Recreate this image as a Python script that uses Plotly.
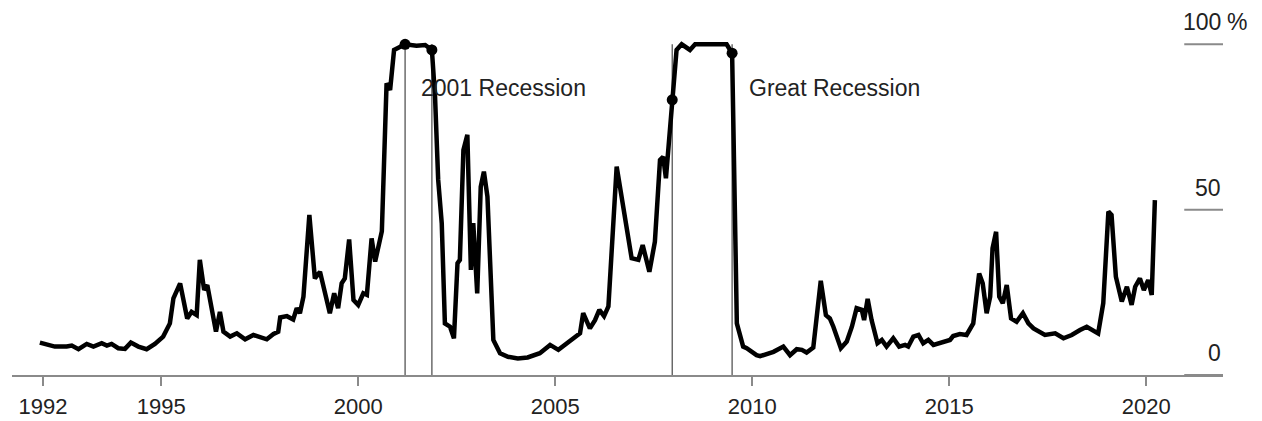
import plotly.graph_objects as go

# Recession probability (%)
years = [
    1991.92, 1992.09, 1992.30, 1992.60, 1992.73, 1992.90, 1993.11, 1993.28, 1993.49, 1993.62,
    1993.74, 1993.91, 1994.08, 1994.23, 1994.42, 1994.63, 1994.84, 1995.05, 1995.22, 1995.31,
    1995.48, 1995.66, 1995.77, 1995.90, 1995.98, 1996.09, 1996.17, 1996.39, 1996.49, 1996.58,
    1996.75, 1996.92, 1997.13, 1997.34, 1997.51, 1997.68, 1997.85, 1997.97, 1998.02, 1998.19,
    1998.35, 1998.44, 1998.52, 1998.61, 1998.76, 1998.90, 1999.03, 1999.28, 1999.39, 1999.49,
    1999.58, 1999.66, 1999.77, 1999.88, 2000.00, 2000.13, 2000.22, 2000.34, 2000.43, 2000.60,
    2000.72, 2000.81, 2000.91, 2001.06, 2001.19, 2001.48, 2001.70, 2001.87, 2001.95, 2002.03,
    2002.12, 2002.20, 2002.33, 2002.43, 2002.52, 2002.58, 2002.67, 2002.77, 2002.86, 2002.92,
    2003.02, 2003.11, 2003.19, 2003.28, 2003.35, 2003.43, 2003.60, 2003.80, 2004.05, 2004.30,
    2004.61, 2004.87, 2005.08, 2005.29, 2005.46, 2005.63, 2005.71, 2005.88, 2006.01, 2006.12,
    2006.24, 2006.35, 2006.56, 2006.94, 2007.11, 2007.22, 2007.39, 2007.53, 2007.66, 2007.74,
    2007.81, 2007.97, 2008.08, 2008.21, 2008.42, 2008.55, 2009.35, 2009.49, 2009.61, 2009.77,
    2009.86, 2010.11, 2010.20, 2010.54, 2010.79, 2010.96, 2011.13, 2011.26, 2011.38, 2011.55,
    2011.74, 2011.87, 2011.97, 2012.06, 2012.25, 2012.40, 2012.53, 2012.65, 2012.78, 2012.84,
    2012.93, 2013.03, 2013.18, 2013.29, 2013.41, 2013.58, 2013.73, 2013.88, 2013.96, 2014.09,
    2014.22, 2014.34, 2014.47, 2014.60, 2014.77, 2015.02, 2015.10, 2015.27, 2015.44, 2015.61,
    2015.76, 2015.85, 2015.95, 2016.04, 2016.10, 2016.19, 2016.27, 2016.36, 2016.46, 2016.57,
    2016.71, 2016.87, 2017.01, 2017.14, 2017.43, 2017.69, 2017.90, 2018.11, 2018.32, 2018.49,
    2018.78, 2018.91, 2019.04, 2019.12, 2019.23, 2019.38, 2019.51, 2019.63, 2019.72, 2019.84,
    2019.94, 2020.05, 2020.14, 2020.22,
]
probability = [
    9.8, 9.4, 8.6, 8.6, 8.9, 7.8, 9.4, 8.6, 9.6, 8.9,
    9.4, 8.1, 7.9, 9.8, 8.6, 7.8, 9.4, 11.6, 15.6, 23.2,
    27.7, 17.1, 19.1, 18.1, 34.8, 25.7, 27.2, 13.1, 19.1, 13.1,
    11.6, 12.6, 10.8, 12.1, 11.6, 10.8, 12.4, 13.1, 17.4, 17.8,
    16.8, 20.2, 18.7, 23.7, 48.4, 29.2, 31.2, 18.7, 24.7, 20.2,
    27.7, 29.2, 41.0, 22.7, 21.2, 24.7, 24.2, 41.3, 34.3, 43.5,
    88.2, 86.2, 98.3, 99.3, 100.0, 99.6, 99.8, 98.3, 84.2, 59.0,
    45.9, 15.6, 14.6, 11.1, 33.8, 34.8, 68.0, 72.6, 31.8, 45.9,
    24.7, 56.9, 61.5, 53.9, 33.8, 10.6, 6.6, 5.5, 5.0, 5.3,
    6.6, 9.1, 7.6, 9.6, 11.1, 12.6, 18.7, 14.1, 16.6, 19.7,
    17.8, 20.7, 63.0, 35.3, 34.8, 39.3, 31.2, 40.3, 65.0, 66.0,
    59.5, 83.2, 98.3, 100.0, 98.3, 100.0, 100.0, 97.3, 15.6, 8.6,
    8.1, 6.0, 5.7, 7.0, 8.6, 6.0, 7.8, 7.6, 6.8, 8.3,
    28.5, 18.1, 17.1, 14.6, 8.1, 10.1, 14.6, 20.2, 19.7, 16.6,
    23.0, 16.6, 9.6, 10.6, 8.6, 11.1, 8.6, 9.1, 8.6, 11.6,
    12.1, 9.6, 10.6, 9.1, 9.8, 10.6, 11.8, 12.4, 12.1, 15.6,
    30.7, 27.7, 18.7, 23.7, 38.3, 43.3, 23.7, 21.7, 27.2, 17.1,
    16.1, 18.7, 15.6, 14.1, 12.1, 12.6, 11.1, 12.1, 13.6, 14.6,
    12.6, 21.7, 49.4, 48.4, 29.7, 22.2, 26.7, 21.2, 26.7, 29.2,
    25.7, 28.7, 24.2, 52.9,
]

# Recession start / end dates and labels
recession_bounds = [2001.19, 2001.87, 2007.97, 2009.49]
recession_labels = ["2001 Recession", "Great Recession"]
label_years = [2001.55, 2009.87]
label_level = 86.8

tick_years = [1992, 1995, 2000, 2005, 2010, 2015, 2020]
y_ticks = [0, 50, 100]
y_tick_text = ["0", "50", "100 %"]

FONT = "Liberation Sans, Arial, Helvetica, sans-serif"
TEXT = "#222222"
GREY = "#8a8a8a"
FS = 23

dot_vals = [probability[years.index(y)] for y in recession_bounds]

fig = go.Figure()

for xb in recession_bounds:
    fig.add_shape(type="line", xref="x", yref="y", x0=xb, x1=xb, y0=0, y1=100,
                  line=dict(color="#555555", width=1.3), layer="below")

fig.add_trace(go.Scatter(x=years, y=probability, mode="lines",
                         line=dict(color="black", width=4.5, shape="linear"),
                         hoverinfo="skip", showlegend=False))
fig.add_trace(go.Scatter(x=recession_bounds, y=dot_vals, mode="markers",
                         marker=dict(color="black", size=11),
                         hoverinfo="skip", showlegend=False))

# right-side gridline stubs and labels
for yv, txt in zip(y_ticks, y_tick_text):
    fig.add_shape(type="line", xref="paper", yref="y", x0=0.968, x1=1.0, y0=yv, y1=yv,
                  line=dict(color=GREY, width=2))
    if txt.endswith("%"):
        fig.add_annotation(xref="paper", yref="y", x=1.0, y=yv, text=txt.split(" ")[0],
                           xanchor="right", yanchor="middle", yshift=22, showarrow=False,
                           font=dict(family=FONT, size=FS, color=TEXT))
        fig.add_annotation(xref="paper", yref="y", x=1.0, y=yv, text="%",
                           xanchor="left", yanchor="middle", yshift=22, xshift=2, showarrow=False,
                           font=dict(family=FONT, size=FS, color=TEXT))
    else:
        fig.add_annotation(xref="paper", yref="y", x=1.0, y=yv, text=txt,
                           xanchor="right", yanchor="middle", yshift=22, showarrow=False,
                           font=dict(family=FONT, size=FS, color=TEXT))

for lx, lt in zip(label_years, recession_labels):
    fig.add_annotation(xref="x", yref="y", x=lx, y=label_level, text=lt,
                       xanchor="left", yanchor="middle", showarrow=False,
                       font=dict(family=FONT, size=FS, color=TEXT))

fig.update_layout(
    width=1262, height=421,
    margin=dict(l=12, r=39, t=11, b=46, autoexpand=False),
    plot_bgcolor="white", paper_bgcolor="white",
    showlegend=False,
    xaxis=dict(range=[1991.213, 2021.949], tickvals=tick_years,
               ticktext=[str(t) for t in tick_years],
               showgrid=False, zeroline=False, showline=True, linecolor=GREY, linewidth=2,
               ticks="outside", ticklen=9, tickwidth=2, tickcolor=GREY, ticklabelstandoff=2,
               tickfont=dict(family=FONT, size=22, color=TEXT), fixedrange=True),
    yaxis=dict(range=[0, 110.07], showgrid=False, zeroline=False, showline=False,
               showticklabels=False, ticks="", fixedrange=True),
)

fig.write_html("out.html", config={"displayModeBar": False},
               post_script="document.body.style.margin='0';document.body.style.overflow='hidden';")
